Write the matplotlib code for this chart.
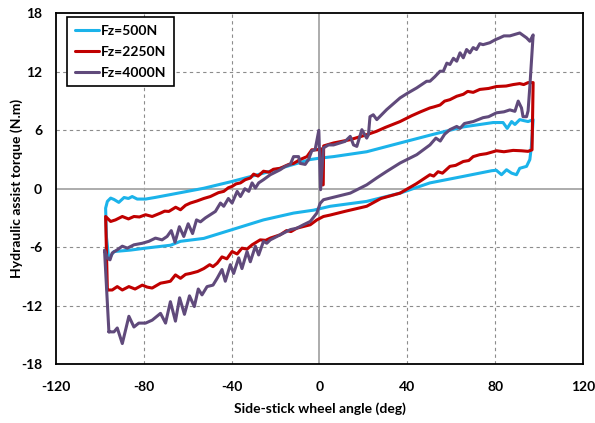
import matplotlib
matplotlib.use('Agg')
from matplotlib import pyplot as plt
import numpy as np

plt.rcParams['font.family'] = ['Lato', 'DejaVu Sans']
plt.rcParams['font.weight'] = 'bold'
plt.rcParams['axes.unicode_minus'] = False

# Fz = 500 N loop: lower branch left->right, then upper branch right->left
ang_500 = [-96.0, -93.6, -86.0, -79.2, -67.8, -63.3, -52.7, -39.8, -25.5, -11.8,
           -2.7, 4.9, 21.5, 36.7, 50.3, 65.5, 78.4, 80.5, 82.9, 85.2,
           87.5, 89.7, 91.2, 94.3, 95.8, 96.5, 97.3,
           95.0, 93.0, 91.2, 89.0, 87.5, 85.5, 83.6, 79.1, 65.5,
           52.0, 36.7, 21.5, 6.4, 0.3, -4.2, -11.8, -25.5, -39.8, -52.7,
           -67.9, -75.0, -79.2, -83.0, -85.3, -87.0, -89.0, -91.4, -93.6, -95.1,
           -96.6, -97.4, -97.0, -96.0]
trq_500 = [-7.2, -6.45, -6.3, -6.1, -5.8, -5.4, -5.1, -4.2, -3.2, -2.5,
           -2.2, -1.8, -1.3, -0.45, 0.6, 1.27, 1.85, 1.9, 1.44, 1.95,
           1.6, 1.44, 2.1, 2.3, 3.0, 4.35, 7.1,
           6.9, 7.0, 7.1, 6.6, 6.9, 6.2, 6.8, 6.8, 6.35,
           5.6, 4.7, 3.8, 3.3, 3.15, 3.0, 2.5, 1.6, 0.75, 0.05,
           -0.6, -0.9, -1.06, -1.06, -0.8, -1.0, -0.9, -1.4, -1.1, -0.96,
           -1.3, -2.0, -5.0, -7.2]

# Fz = 2250 N loop
ang_2250 = [-96.6, -94.4, -92.1, -89.8, -86.8, -84.0, -80.7, -78.5, -76.2, -72.4,
            -70.0, -67.9, -65.6, -63.3, -61.0, -58.8, -55.5, -52.7, -50.0, -48.5,
            -46.6, -44.4, -42.2, -39.8, -37.5, -35.3, -33.0, -30.7, -27.0, -24.5,
            -22.4, -17.9, -15.0, -13.0, -10.3, -4.2, -1.2, 1.8, 4.9, 12.0,
            21.5, 28.0, 36.7, 44.0, 50.3, 52.0, 54.0, 56.0, 59.4, 62.0,
            65.5, 68.0, 70.0, 73.0, 76.0, 80.6, 84.0, 88.2, 92.0, 95.0,
            96.8, 97.3,
            95.0, 93.0, 91.2, 88.2, 85.0, 80.6, 77.0, 73.0, 70.0, 67.5,
            65.5, 62.5, 59.4, 57.0, 54.9, 52.0, 50.3, 46.0, 42.0, 36.7,
            30.0, 26.0, 21.5, 14.0, 6.4, 3.4, 1.9, 1.7, 1.0, 0.8,
            -1.2, -3.5, -5.7, -8.8, -11.8, -14.0, -17.9, -21.0, -23.0, -25.5,
            -28.0, -30.0, -31.5, -33.8, -36.0, -38.0, -39.8, -41.5, -43.6, -46.0,
            -49.7, -52.7, -55.7, -58.8, -61.0, -63.3, -65.5, -68.6, -70.5, -72.4,
            -76.2, -79.2, -82.0, -84.5, -87.0, -89.8, -92.9, -95.1, -97.4, -96.6]
trq_2250 = [-10.4, -10.4, -10.05, -10.4, -10.05, -10.3, -9.9, -10.1, -10.2, -9.7,
            -9.6, -9.5, -8.85, -9.2, -8.8, -8.7, -8.5, -8.2, -7.8, -8.0,
            -7.65, -7.0, -7.2, -6.45, -6.7, -6.1, -6.2, -5.76, -5.25, -5.3,
            -5.07, -4.73, -4.3, -4.4, -4.05, -3.7, -3.2, -2.85, -2.7, -2.3,
            -1.8, -1.0, -0.45, 0.5, 1.44, 1.3, 1.75, 1.6, 2.3, 2.4,
            2.8, 2.9, 3.3, 3.5, 3.6, 3.9, 3.8, 3.94, 3.9, 3.84,
            4.0, 10.9,
            10.9, 10.7, 10.8, 10.7, 10.55, 10.5, 10.3, 10.2, 9.9, 10.0,
            9.7, 9.5, 9.15, 9.0, 8.6, 8.4, 8.3, 7.9, 7.5, 6.9,
            6.3, 5.9, 5.55, 5.04, 4.7, 4.5, 4.4, 0.4, 0.4, 4.1,
            4.0, 4.0, 3.3, 3.0, 2.6, 2.5, 2.1, 2.0, 1.7, 1.8,
            1.3, 1.5, 1.1, 0.93, 0.6, 0.5, 0.24, 0.1, -0.27, -0.4,
            -0.8, -1.0, -1.25, -1.47, -1.7, -2.16, -1.9, -2.33, -2.3, -2.5,
            -2.85, -2.67, -2.9, -2.85, -3.1, -2.85, -3.2, -3.36, -2.85, -10.4]

# Fz = 4000 N loop
ang_4000 = [-95.9, -93.6, -92.1, -89.8, -86.8, -84.5, -82.3, -79.2, -76.2, -72.4,
            -70.1, -67.9, -65.6, -63.7, -61.5, -59.2, -57.0, -55.2, -53.5, -51.2,
            -48.5, -46.6, -44.4, -42.9, -40.6, -39.1, -36.8, -35.3, -33.0, -31.5,
            -29.2, -27.7, -25.5, -24.0, -22.4, -19.4, -16.4, -13.3, -10.3, -7.3,
            -4.2, -1.2, 0.3, 1.8, 4.9, 14.0, 21.5, 26.0, 30.6, 36.7,
            44.3, 50.3, 53.0, 55.0, 57.0, 59.4, 62.5, 64.0, 66.0, 70.0,
            74.5, 77.0, 80.6, 84.0, 86.7, 89.0, 90.5, 92.0, 92.7, 94.3,
            95.0, 95.8, 97.3,
            95.8, 94.3, 91.2, 89.0, 86.7, 84.0, 82.1, 80.0, 77.6, 74.5,
            73.0, 71.5, 70.0, 68.5, 67.0, 65.5, 64.0, 62.5, 61.0, 59.4,
            58.0, 56.4, 54.9, 52.5, 50.3, 48.8, 44.3, 40.0, 36.7, 30.6,
            26.1, 24.5, 23.0, 22.3, 21.5, 19.3, 17.0, 15.5, 14.0, 11.7,
            6.4, 4.1, 1.8, 0.5, -0.3, -2.0, -3.5, -5.0, -6.5, -8.8,
            -9.5, -11.8, -13.3, -15.6, -17.9, -22.4, -25.5, -27.7, -29.2, -30.7,
            -32.2, -34.0, -36.0, -37.5, -39.8, -41.5, -43.6, -45.1, -47.4, -49.7,
            -52.0, -54.2, -56.0, -57.8, -59.8, -61.8, -63.8, -65.8, -67.5, -69.4,
            -71.7, -74.7, -77.7, -80.7, -84.5, -87.5, -89.8, -92.1, -94.4, -95.4,
            -96.6, -97.9, -95.9]
trq_4000 = [-14.7, -14.7, -14.3, -15.9, -13.1, -14.2, -13.8, -13.8, -13.5, -12.8,
            -13.8, -11.6, -13.6, -11.2, -12.9, -11.0, -12.1, -10.3, -10.9, -10.05,
            -9.9, -9.2, -8.3, -9.5, -7.8, -8.7, -7.1, -8.2, -6.45, -7.5,
            -5.9, -6.8, -5.4, -5.6, -5.25, -4.9, -4.56, -4.2, -4.05, -3.7,
            -3.36, -2.5, -1.5, -1.13, -0.96, -0.45, 0.4, 1.1, 1.78, 2.64,
            3.5, 4.5, 5.2, 4.9, 5.6, 6.07, 6.4, 6.2, 6.7, 6.9,
            7.3, 7.4, 7.8, 7.9, 8.1, 7.95, 9.0, 8.3, 7.4, 7.4,
            8.0, 10.5, 15.8,
            15.15, 15.5, 16.0, 15.85, 15.7, 15.7, 15.5, 15.3, 15.0, 14.8,
            14.9, 14.3, 14.5, 13.96, 14.3, 13.45, 13.96, 13.1, 13.4, 12.76,
            12.9, 12.07, 12.07, 11.5, 11.04, 11.04, 10.36, 9.8, 9.33, 8.13,
            7.1, 7.6, 7.4, 5.55, 5.2, 6.07, 4.35, 4.5, 5.38, 4.87,
            4.5, 4.5, 4.2, -0.1, 6.0, 4.0, 3.9, 3.0, 2.5, 2.6,
            3.3, 3.3, 2.5, 2.3, 1.95, 1.44, 0.93, 0.6, 0.07, 0.6,
            -0.27, 0.0, -0.8, -0.27, -1.47, -1.0, -1.8, -1.47, -2.33, -2.67,
            -3.0, -3.4, -3.2, -4.6, -3.6, -4.9, -3.9, -5.5, -4.3, -4.9,
            -5.25, -5.07, -5.4, -5.6, -5.76, -6.1, -5.9, -6.27, -6.6, -7.3,
            -7.1, -6.3, -14.7]

labels = ['Fz=500N', 'Fz=2250N', 'Fz=4000N']
colors = ['#1BB3EA', '#C00000', '#604A7B']

fig = plt.figure(figsize=(5.95, 4.23), dpi=100)
ax = fig.add_axes([0.0941, 0.1395, 0.8857, 0.8286])

for a, t, lab, c in zip([ang_500, ang_2250, ang_4000],
                        [trq_500, trq_2250, trq_4000], labels, colors):
    ax.plot(a, t, color=c, linewidth=2.2, label=lab,
            solid_joinstyle='round', solid_capstyle='round')

ax.set_xlim(-120, 120)
ax.set_ylim(-18, 18)
ax.set_xticks(np.arange(-120, 121, 40))
ax.set_yticks(np.arange(-18, 19, 6))

# dashed grid, solid zero lines
for x in [-80, -40, 40, 80]:
    ax.axvline(x, color='#8C8C8C', linewidth=0.8, linestyle=(0, (3, 3)), zorder=0)
for y in [-12, -6, 6, 12]:
    ax.axhline(y, color='#8C8C8C', linewidth=0.8, linestyle=(0, (3, 3)), zorder=0)
ax.axvline(0, color='#A6A6A6', linewidth=1.3, zorder=0)
ax.axhline(0, color='#A6A6A6', linewidth=1.3, zorder=0)

for s in ax.spines.values():
    s.set_linewidth(1.3)
    s.set_color('black')
ax.tick_params(axis='both', length=0, labelsize=10)
ax.tick_params(axis='x', pad=12)
ax.tick_params(axis='y', pad=10)

ax.set_xlabel('Side-stick wheel angle (deg)', fontsize=10, fontweight='bold')
ax.set_ylabel('Hydraulic assist torque (N.m)', fontsize=10, fontweight='bold')
ax.xaxis.set_label_coords(0.5, -0.11)
ax.yaxis.set_label_coords(-0.062, 0.5)

leg = ax.legend(loc='upper left', bbox_to_anchor=(0.021, 0.99), borderaxespad=0,
                fancybox=False, framealpha=1, edgecolor='black', fontsize=10,
                handlelength=1.75, handletextpad=0.15, labelspacing=0.65,
                borderpad=0.55)
leg.get_frame().set_linewidth(1.2)

fig.savefig('out.png', dpi=100)
